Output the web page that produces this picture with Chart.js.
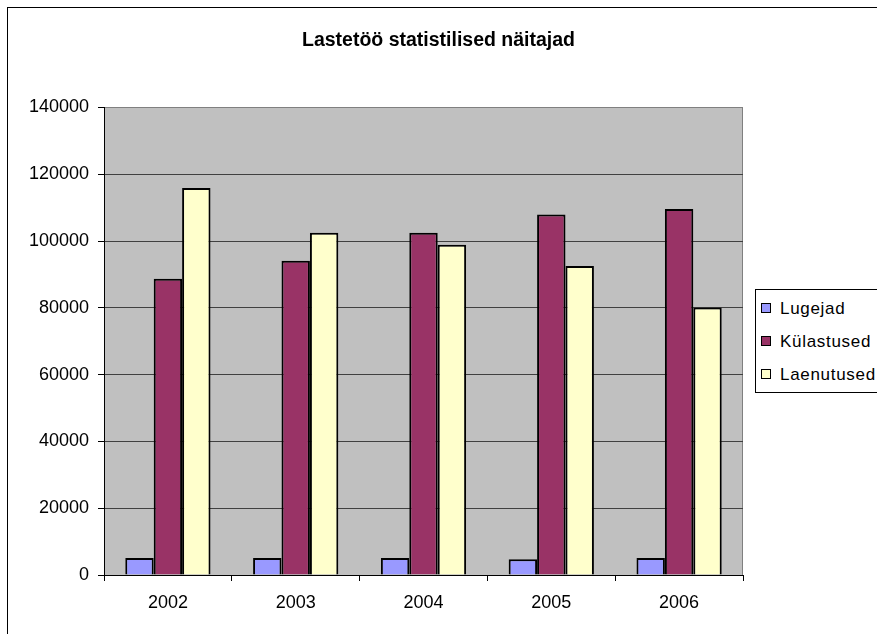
<!DOCTYPE html>
<html>
<head>
<meta charset="utf-8">
<title>Lastetöö statistilised näitajad</title>
<script src="https://cdn.jsdelivr.net/npm/chart.js@4.4.1/dist/chart.umd.min.js"></script>
<style>
    html, body { margin: 0; padding: 0; background: #fff; overflow: hidden; }
    body { width: 877px; height: 634px; position: relative; font-family: "Liberation Sans", Arial, sans-serif; }
    #frame { position: absolute; left: 7px; top: 7px; width: 900px; height: 700px; border: 1px solid #000; }
    #wrap { position: absolute; left: 0; top: 0; width: 877px; height: 634px; }
    #legend {
        position: absolute; left: 755px; top: 289px; width: 140px; height: 100px;
        border: 1px solid #000; background: #fff; padding-top: 2px;
        font-size: 17px; letter-spacing: 0.7px; color: #000;
    }
    #legend .item { height: 33px; line-height: 33px; white-space: nowrap; position: relative; }
    #legend .swatch {
        position: absolute; left: 5px; top: 11px; width: 8px; height: 8px;
        border: 1px solid #000;
    }
    #legend .label { position: absolute; left: 24px; top: 0; }
</style>
</head>
<body>
<div id="frame"></div>
<div id="wrap"><canvas id="chart"></canvas></div>
<div id="legend"></div>

<script>
// ========== ANDMED ==========
const chartTitle = 'Lastetöö statistilised näitajad';
const years = ['2002', '2003', '2004', '2005', '2006'];
const seriesNames = ['Lugejad', 'Külastused', 'Laenutused'];
const lugejad = [5100, 5100, 5100, 4700, 5100];
const kulastused = [88700, 94100, 102500, 107900, 109600];
const laenutused = [115900, 102500, 98900, 92500, 80100];
const seriesColors = ['#9999FF', '#993366', '#FFFFCC'];
const yTicks = [0, 20000, 40000, 60000, 80000, 100000, 120000, 140000];

// hall taust joonisalale
const plotBackground = {
    id: 'plotBackground',
    beforeDraw(chart) {
        const { ctx, chartArea: a } = chart;
        ctx.save();
        ctx.fillStyle = '#C0C0C0';
        ctx.fillRect(a.left, a.top, a.right - a.left, a.bottom - a.top);
        ctx.strokeStyle = '#808080';
        ctx.lineWidth = 1;
        ctx.beginPath();
        ctx.moveTo(a.right - 0.5, a.top);
        ctx.lineTo(a.right - 0.5, a.bottom);
        ctx.stroke();
        ctx.restore();
    }
};

function buildLegend() {
    const legend = document.getElementById('legend');
    legend.innerHTML = seriesNames.map((name, i) => `
        <div class="item">
            <span class="swatch" style="background:${seriesColors[i]}"></span>
            <span class="label">${name}</span>
        </div>
    `).join('');
}

document.addEventListener('DOMContentLoaded', () => {
    buildLegend();

    const values = [lugejad, kulastused, laenutused];
    const ctx = document.getElementById('chart').getContext('2d');

    new Chart(ctx, {
        type: 'bar',
        data: {
            labels: years,
            datasets: seriesNames.map((name, i) => ({
                label: name,
                data: values[i],
                backgroundColor: seriesColors[i],
                borderColor: '#000',
                borderWidth: 2,
                categoryPercentage: 0.667,
                barPercentage: 1
            }))
        },
        options: {
            responsive: true,
            maintainAspectRatio: false,
            animation: false,
            layout: { padding: 0 },
            plugins: {
                legend: { display: false },
                tooltip: { enabled: false },
                title: {
                    display: true,
                    text: chartTitle,
                    color: '#000',
                    font: { family: '"Liberation Sans", Arial, sans-serif', size: 19.5, weight: 'bold' },
                    padding: { top: 29, bottom: 55 }
                }
            },
            scales: {
                x: {
                    grid: { display: true, drawOnChartArea: false, drawTicks: true, tickLength: 6, tickColor: '#000', offset: true },
                    border: { color: '#000', width: 1 },
                    ticks: {
                        color: '#000',
                        padding: 11,
                        font: { family: '"Liberation Sans", Arial, sans-serif', size: 18 }
                    },
                    afterFit(scale) { scale.height = 59; }
                },
                y: {
                    min: 0,
                    max: 140000,
                    afterBuildTicks(scale) { scale.ticks = yTicks.map(v => ({ value: v })); },
                    grid: {
                        color: c => (c.tick && c.tick.value === 140000) ? '#808080' : '#404040',
                        tickColor: '#000',
                        tickLength: 6
                    },
                    border: { color: '#000', width: 1 },
                    ticks: {
                        color: '#000',
                        padding: 9,
                        font: { family: '"Liberation Sans", Arial, sans-serif', size: 18 },
                        callback: v => String(v)
                    },
                    afterFit(scale) { scale.width = 104; }
                },
                // tühi parem telg jätab ruumi legendile
                spacer: {
                    type: 'linear',
                    position: 'right',
                    display: true,
                    grid: { display: false, drawTicks: false },
                    border: { display: false },
                    ticks: { display: false },
                    afterFit(scale) { scale.width = 134; }
                }
            }
        },
        plugins: [plotBackground]
    });
});
</script>
</body>
</html>
